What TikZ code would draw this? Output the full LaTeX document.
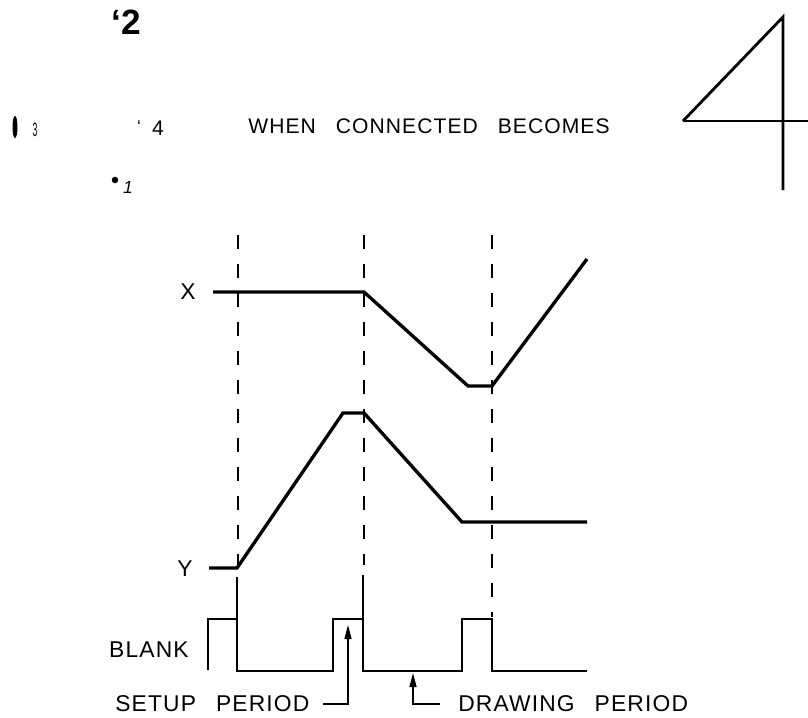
\documentclass[tikz,border=0pt]{standalone}
\usepackage{fontspec}
\setsansfont{Liberation Sans}
\newfontfamily\lblfont{Liberation Sans}[LetterSpace=5]
\usetikzlibrary{arrows.meta,positioning,shapes.geometric,calc}
\newcommand{\wgap}{\hspace{0.4cm}}

\begin{document}
\begin{tikzpicture}[
    x=0.02cm, y=-0.02cm,
    font=\sffamily,
    lbl/.style={inner sep=0pt, font=\fontsize{13}{15}\lblfont},
    pin/.style={inner sep=0pt, font=\fontsize{12}{14}\sffamily},
    wave/.style={line width=1.9pt, line join=miter},
    blank/.style={line width=1.6pt, line join=miter},
    guide/.style={line width=0.9pt, dash pattern=on 0.28cm off 0.3cm},
    tie/.style={line width=1.2pt},
    pointer/.style={line width=0.8pt, -{Triangle[length=0.28cm, width=0.14cm]}}
  ]
    \useasboundingbox (0,0) rectangle (808,717);

    % pins of the connector
    \node[inner sep=0pt, font=\fontsize{20}{22}\bfseries\sffamily] (pin2) at (126,22) {‘2};
    \node[ellipse, fill, inner sep=0pt, minimum width=0.1cm, minimum height=0.44cm] (pin3dot) at (15,127) {};
    \node[pin, font=\fontsize{11}{12}\sffamily, xscale=0.45] (pin3) at (35,130) {3};
    \node[pin, font=\fontsize{10}{12}\sffamily] (pin4tick) at (139,126) {‘};
    \node[pin] (pin4) at (158,128) {4};
    \node[circle, fill, inner sep=0pt, minimum size=0.13cm] (pin1dot) at (115,180) {};
    \node[pin, font=\fontsize{10}{12}\itshape\sffamily] (pin1) at (128,187) {1};

    \node[inner sep=0pt, font=\fontsize{12}{14}\lblfont] (when) at (429,126)
      {WHEN\wgap CONNECTED\wgap BECOMES};

    % the figure 4
    \coordinate (fl) at (683,121);
    \coordinate (ft) at (783,17);
    \coordinate (fb) at (783,190);
    \coordinate (fr) at (808,121);
    \draw[blank] (fl) -- (ft) -- (fb);
    \draw[blank] (fl) -- (fr);

    % timing
    \node[lbl] (xl) at (188,292) {X};
    \node[lbl] (yl) at (185,569) {Y};
    \node[lbl, anchor=east] (bl) at (189,650) {BLANK};
    \node[lbl, anchor=west] (setup) at (115,704) {SETUP\wgap PERIOD};
    \node[lbl, anchor=west] (drawing) at (458,704) {DRAWING\wgap PERIOD};

    \draw[guide] (238,235) -- (238,565);
    \draw[guide] (364,235) -- (364,565);
    \draw[guide] (492,235) -- (492,617);
    \draw[tie] (237,577) -- (237,619);
    \draw[tie] (363,575) -- (363,619);

    \draw[wave] (213,292) -- (364,292) -- (468,386) -- (492,386) -- (587,259);
    \draw[wave] (209,568) -- (237,568) -- (343,413) -- (364,413) -- (462,522) -- (587,522);
    \draw[blank] (208,670) -- (208,619) -- (237,619) -- (237,671) -- (333,671)
      -- (333,619) -- (363,619) -- (363,671) -- (462,671) -- (462,619)
      -- (492,619) -- (492,671) -- (587,671);

    \coordinate (setuptip) at (348,625);
    \coordinate (drawtip) at (413,673);
    \draw[pointer, shorten <=0.26cm] (setup.east) -| (setuptip);
    \draw[pointer, shorten <=0.36cm] (drawing.west) -| (drawtip);
\end{tikzpicture}
\end{document}
